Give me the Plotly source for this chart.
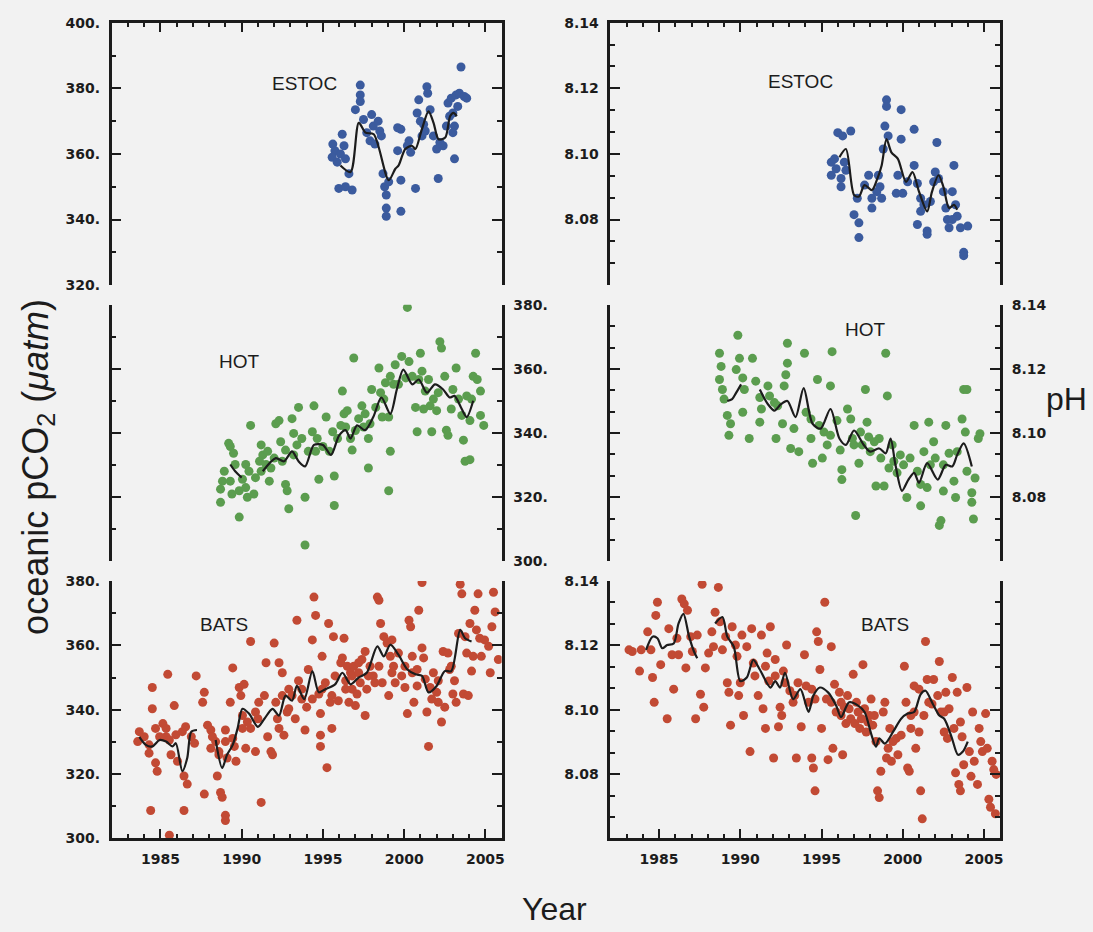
import plotly.graph_objects as go

# ---------------- data (year, value) ----------------
estoc_pco2_pts = [(1995.61,363),(1995.74,361),(1995.57,359),(1995.88,357.5),(1996.19,366),(1996.08,360),(1996.39,358.5),
    (1995.98,349.5),(1996.39,350),(1996.8,349),(1996.6,354),(1996.3,362.5),(1997.0,373.5),(1997.3,381),(1997.3,378),
    (1997.3,376),(1997.5,370.5),(1997.7,366.5),(1998.0,372),(1998.1,368.5),(1997.9,364),(1998.2,363),(1998.5,367),
    (1998.4,370),(1998.6,365.5),(1998.7,354),(1998.8,350),(1998.9,347.5),(1998.9,343.5),(1998.9,341),(1999.05,351.5),
    (1999.6,368),(1999.8,367.5),(1999.8,352),(1999.8,342.5),(1999.6,361),(2000.2,362.5),(2000.3,364),(2000.4,360.5),
    (2000.7,349.5),(2000.9,376.5),(2000.8,372.5),(2001.0,370),(2001.1,365.5),(2001.2,369),(2001.4,380.5),(2001.45,378.5),
    (2001.3,367),(2001.6,373.5),(2001.8,365.5),(2002.0,361.5),(2002.1,352.5),(2002.2,363.5),(2002.4,362.5),(2002.6,368.5),
    (2002.8,371.5),(2002.7,375.5),(2002.9,377),(2003.1,368.5),(2003.0,366.5),(2003.1,358.5),(2003.2,378),(2003.4,378.5),
    (2003.5,386.5),(2003.7,377.5),(2003.85,377),(2003.3,374.5),(2003.0,372.5)]
estoc_pco2_line = [(1996.08,356.5),(1996.7,354.5),(1997.21,369.5),(1997.62,366.5),(1998.13,366),(1999.05,352),
    (1999.46,355.5),(1999.66,356.5),(2000.07,361.5),(2000.48,362.5),(2000.69,361.5),(2001.09,367.5),(2001.5,373),
    (2001.81,369.5),(2002.12,364.5),(2002.53,365),(2002.83,371.5),(2003.04,372.5),(2003.24,371.5)]

estoc_ph_pts = [(1995.6,8.0975),(1995.8,8.0985),(1995.9,8.0955),(1995.6,8.0935),(1996.0,8.1065),(1996.3,8.1055),
    (1996.2,8.0925),(1996.2,8.090),(1996.4,8.0975),(1996.5,8.095),(1996.8,8.107),(1997.0,8.0815),(1997.3,8.079),
    (1997.3,8.0745),(1997.2,8.0865),(1997.65,8.0905),(1997.9,8.0935),(1998.1,8.0865),(1998.1,8.0835),(1998.4,8.0885),
    (1998.5,8.0935),(1998.6,8.090),(1998.7,8.0865),(1998.8,8.1015),(1998.9,8.1085),(1999.0,8.1165),(1999.0,8.1145),
    (1999.1,8.1055),(1999.7,8.0935),(1999.6,8.088),(1999.9,8.1135),(1999.9,8.1045),(2000.0,8.088),(2000.3,8.0915),
    (2000.7,8.1075),(2000.7,8.0965),(2000.9,8.091),(2001.1,8.0865),(2000.9,8.0785),(2001.1,8.0825),(2001.3,8.0845),
    (2001.5,8.0765),(2001.5,8.0755),(2001.7,8.0855),(2001.9,8.0915),(2002.0,8.0945),(2002.1,8.1035),(2002.2,8.0925),
    (2002.5,8.0885),(2002.65,8.0835),(2002.75,8.080),(2002.85,8.0775),(2003.05,8.0885),(2003.15,8.0965),(2003.25,8.0845),
    (2003.35,8.081),(2003.55,8.0775),(2003.75,8.070),(2003.75,8.069),(2004.0,8.078),(2003.05,8.080)]
estoc_ph_line = [(1996.1,8.099),(1996.5,8.1015),(1997.0,8.0875),(1997.3,8.087),(1997.65,8.0905),(1998.1,8.089),
    (1998.4,8.092),(1998.7,8.0965),(1999.0,8.1045),(1999.3,8.1005),(1999.7,8.0985),(2000.2,8.0915),(2000.6,8.0945),
    (2001.0,8.0885),(2001.5,8.0825),(2001.8,8.0885),(2002.2,8.0935),(2002.5,8.090),(2002.85,8.0835),(2003.15,8.0845),
    (2003.35,8.083)]

hot_pco2_pts = [(1988.93,328.1),(1988.82,325.0),(1988.7,322.5),(1988.7,318.4),(1989.2,336.8),(1989.3,335.8),(1989.5,333.7),
    (1989.4,321.0),(1989.3,325.0),(1989.85,322.0),(1989.85,313.8),(1990.05,325.6),(1990.25,330.2),(1990.25,323.0),
    (1990.35,320.0),(1990.55,342.4),(1990.75,321.0),(1990.85,326.1),(1991.2,336.3),(1991.3,333.2),(1991.2,328.1),
    (1991.6,334.3),(1991.7,325.0),(1991.8,329.1),(1992.1,342.9),(1992.3,343.9),(1992.4,337.3),(1992.5,331.2),(1992.7,324.0),
    (1992.8,322.0),(1992.9,316.4),(1993.1,344.5),(1993.2,339.9),(1993.4,336.3),(1993.5,348.0),(1993.9,320.0),(1993.9,305.1),
    (1994.1,334.3),(1994.45,348.5),(1994.35,340.4),(1994.65,338.3),(1994.75,325.6),(1995.0,335.8),(1995.2,345.0),
    (1995.4,334.3),(1995.7,326.6),(1995.7,317.4),(1995.9,338.3),(1996.2,353.1),(1996.3,346.0),(1996.4,341.9),(1996.7,338.3),
    (1996.8,334.7),(1996.9,363.4),(1997.0,340.8),(1997.2,344.5),(1997.4,348.5),(1997.5,341.9),(1997.8,338.3),(1997.8,329.1),
    (1998.0,353.6),(1998.25,348.0),(1998.45,360.3),(1998.55,352.6),(1998.75,350.6),(1998.85,355.7),(1999.05,345.0),
    (1999.15,334.3),(1999.05,322.0),(1999.15,357.7),(1999.45,361.3),(1999.65,355.2),(1999.85,363.9),(2000.2,379.2),
    (2000.3,362.3),(2000.5,357.7),(2000.7,348.0),(2000.8,340.4),(2001.0,364.9),(2001.1,359.3),(2001.3,353.1),(2001.5,356.7),
    (2001.6,348.5),(2001.7,340.4),(2002.0,347.0),(2002.1,352.6),(2002.2,368.5),(2002.3,366.5),(2002.5,357.7),(2002.6,340.9),
    (2002.7,339.3),(2003.0,353.6),(2003.2,360.3),(2003.35,350.6),(2003.55,345.5),(2003.65,337.8),(2003.75,331.2),
    (2004.05,331.7),(2004.05,343.9),(2004.25,357.7),(2004.4,364.9),(2004.5,356.7),(2004.7,353.1),(2004.7,345.5),
    (2004.9,342.4),(1989.6,330.2),(1990.45,328.1),(1991.1,331.2),(1991.5,330.2),(1992.0,332.2),(1992.7,334.7),
    (1993.2,333.2),(1993.7,338.3),(1994.55,334.3),(1995.6,340.4),(1996.1,342.4),(1996.5,347.0),(1997.6,346.0),
    (1997.9,342.9),(1998.65,345.0),(1999.35,355.2),(2000.1,357.2),(2000.9,356.7),(2001.2,347.5),(2001.8,350.6),
    (2002.9,347.5),(2003.85,351.6),(2004.15,350.6)]
hot_pco2_line = [(1989.3,330.2),(1989.6,328.1),(1990.0,326.1),(None,None),(1991.3,328.1),(1992.1,332.2),(1992.6,331.2),
    (1993.1,334.3),(1993.5,331.2),(1993.9,329.6),(1994.45,336.3),(1995.0,336.3),(1995.5,333.2),(1996.0,339.3),
    (1996.4,340.9),(1996.7,338.3),(1997.1,342.4),(1997.6,340.9),(1998.1,345.0),(1998.6,351.1),(1999.15,346.0),
    (1999.55,353.6),(1999.95,359.8),(2000.5,355.2),(2000.9,356.7),(2001.4,352.6),(2001.9,355.2),(2002.4,353.6),
    (2002.8,351.1),(2003.1,351.6),(2003.5,348.0),(2003.85,345.0),(2004.25,350.1)]

hot_ph_pts = [(1988.72,8.1249),(1988.82,8.1208),(1988.72,8.1167),(1988.9,8.1136),(1989.0,8.1106),(1989.2,8.1055),
    (1989.4,8.1029),(1989.3,8.0993),(1989.85,8.1305),(1989.75,8.1198),(1989.95,8.1233),(1990.15,8.1172),(1990.25,8.1136),
    (1990.15,8.1065),(1990.55,8.0983),(1990.75,8.1233),(1990.95,8.1162),(1991.2,8.1111),(1991.3,8.1075),(1991.2,8.1034),
    (1991.7,8.1147),(1991.8,8.1116),(1992.2,8.0983),(1992.3,8.1085),(1992.6,8.1029),(1992.8,8.1182),(1992.9,8.1280),
    (1992.9,8.1218),(1992.7,8.1147),(1993.1,8.0952),(1993.3,8.1014),(1993.6,8.0942),(1993.95,8.1249),(1994.05,8.1065),
    (1994.35,8.0983),(1994.45,8.0906),(1994.75,8.1167),(1994.85,8.1024),(1995.05,8.0922),(1995.15,8.1003),(1995.55,8.1147),
    (1995.55,8.0993),(1995.65,8.1254),(1995.95,8.1039),(1996.15,8.0947),(1996.25,8.0886),(1996.25,8.0855),(1996.6,8.1075),
    (1996.8,8.1044),(1996.9,8.0983),(1997.0,8.0963),(1997.1,8.0743),(1997.3,8.0906),(1997.5,8.0963),(1997.7,8.1136),
    (1997.8,8.1034),(1997.9,8.0988),(1998.0,8.0942),(1998.35,8.0835),(1998.55,8.0983),(1998.65,8.0922),(1998.85,8.0835),
    (1998.95,8.1249),(1999.05,8.1116),(1999.15,8.0891),(1999.35,8.0963),(1999.65,8.0876),(1999.85,8.0932),(2000.25,8.0799),
    (2000.45,8.0922),(2000.7,8.1024),(2000.9,8.0881),(2001.1,8.0773),(2001.3,8.0942),(2001.5,8.0830),(2001.6,8.1034),
    (2001.9,8.0973),(2002.0,8.0922),(2002.25,8.0712),(2002.35,8.0727),(2002.5,8.0819),(2002.65,8.1024),(2002.85,8.0937),
    (2003.15,8.0850),(2003.25,8.0799),(2003.65,8.1044),(2003.75,8.1136),(2003.95,8.1136),(2003.85,8.1003),(2003.95,8.0881),
    (2004.25,8.0814),(2004.35,8.0732),(2004.45,8.0860),(2004.65,8.0983),(2004.75,8.0998),(2004.25,8.0784),(1992.1,8.1095),
    (1994.35,8.1044),(1995.35,8.0963),(1997.4,8.1003),(1998.25,8.0973),(1999.45,8.0912),(2000.05,8.0901),(2001.1,8.0840),
    (2001.7,8.0901),(2002.5,8.0901),(2003.35,8.0942)]
hot_ph_line = [(1989.2,8.110),(1989.5,8.1106),(1989.75,8.1126),(1990.05,8.1152),(None,None),(1991.2,8.1136),(1991.7,8.109),
    (1992.1,8.107),(1992.5,8.109),(1992.9,8.110),(1993.4,8.105),(1993.9,8.114),(1994.45,8.1029),(1994.95,8.1014),
    (1995.55,8.1075),(1996.1,8.0983),(1996.5,8.0963),(1997.0,8.1008),(1997.6,8.0963),(1998.0,8.0942),(1998.55,8.0952),
    (1998.95,8.0937),(1999.25,8.0983),(1999.55,8.0901),(1999.95,8.082),(2000.35,8.0855),(2000.7,8.0876),(2001.0,8.0845),
    (2001.5,8.0906),(2002.15,8.0855),(2002.65,8.0901),(2003.05,8.0896),(2003.35,8.0932),(2003.75,8.0968),(2004.25,8.0896)]

bats_pco2_pts = [(1983.7,333.2),(1983.6,330.1),(1984.0,331.6),(1984.3,329.1),(1984.5,346.9),(1984.5,340.3),(1984.3,326.5),
    (1984.4,308.7),(1984.7,334.2),(1984.7,323.5),(1984.8,320.9),(1985.15,335.7),(1985.35,331.6),(1985.45,351.0),
    (1985.55,330.6),(1985.65,326.0),(1985.55,301.0),(1985.85,341.3),(1985.95,332.2),(1986.05,324.0),(1986.35,333.2),
    (1986.45,308.7),(1986.55,334.7),(1986.45,319.4),(1986.65,316.9),(1986.9,331.6),(1987.1,329.6),(1987.2,350.5),
    (1987.6,342.3),(1987.7,345.4),(1987.7,313.8),(1987.9,335.2),(1988.1,333.7),(1988.2,331.6),(1988.4,330.1),(1988.5,319.4),
    (1988.6,327.0),(1988.7,314.3),(1988.8,312.8),(1989.0,307.2),(1989.0,305.6),(1989.0,330.1),(1989.1,325.0),(1989.3,342.3),
    (1989.45,353.0),(1989.55,328.6),(1989.65,324.0),(1989.85,346.9),(1989.95,344.4),(1990.05,338.2),(1990.15,347.9),
    (1990.25,328.0),(1990.55,361.2),(1990.55,334.2),(1990.85,327.0),(1991.0,337.2),(1991.2,311.2),(1991.4,344.4),
    (1991.5,354.6),(1991.6,331.6),(1991.8,327.0),(1991.9,326.0),(1992.0,360.7),(1992.1,342.3),(1992.2,337.2),(1992.3,354.6),
    (1992.3,334.2),(1992.5,351.5),(1992.6,332.1),(1992.8,339.3),(1992.9,346.4),(1993.1,344.4),(1993.3,337.2),(1993.4,367.8),
    (1993.5,349.0),(1993.7,346.4),(1993.9,333.7),(1994.0,340.8),(1994.1,352.5),(1994.35,361.7),(1994.45,375.0),
    (1994.55,369.3),(1994.75,344.9),(1994.85,338.8),(1994.85,332.1),(1994.85,328.6),(1994.95,356.6),(1995.15,348.4),
    (1995.25,322.0),(1995.35,366.8),(1995.45,342.3),(1995.55,334.2),(1995.65,362.7),(1995.75,350.5),(1995.95,342.8),
    (1996.1,354.6),(1996.2,356.1),(1996.3,362.2),(1996.4,349.0),(1996.5,353.5),(1996.6,342.3),(1996.7,351.5),(1996.8,346.4),
    (1996.9,353.5),(1997.0,341.3),(1997.1,344.9),(1997.2,354.6),(1997.3,348.4),(1997.4,355.6),(1997.6,338.2),(1997.6,358.1),
    (1997.7,346.4),(1997.9,353.5),(1998.1,350.5),(1998.35,375.0),(1998.45,374.0),(1998.55,366.8),(1998.65,348.4),
    (1998.75,362.7),(1998.95,360.7),(1999.05,344.4),(1999.15,356.6),(1999.25,361.7),(1999.35,353.5),(1999.65,357.6),
    (1999.85,350.5),(2000.05,346.9),(2000.2,338.8),(2000.3,367.8),(2000.4,365.8),(2000.5,351.5),(2000.6,342.3),
    (2000.8,352.5),(2000.9,370.9),(2001.1,379.5),(2001.1,359.2),(2001.2,356.1),(2001.3,349.5),(2001.4,339.3),(2001.5,328.6),
    (2001.6,346.9),(2001.8,351.5),(2002.0,345.4),(2002.1,342.3),(2002.3,336.2),(2002.4,358.1),(2002.5,340.8),(2002.7,357.6),
    (2002.8,352.5),(2002.9,353.5),(2003.0,344.9),(2003.1,349.0),(2003.2,342.3),(2003.35,363.7),(2003.45,379.0),
    (2003.55,376.0),(2003.65,344.9),(2003.75,362.7),(2003.85,357.6),(2003.95,344.4),(2004.05,366.8),(2004.15,352.0),
    (2004.25,356.6),(2004.35,370.9),(2004.45,364.8),(2004.55,376.0),(2004.65,362.2),(2004.75,356.6),(2004.95,361.7),
    (2005.2,359.7),(2005.3,351.5),(2005.4,365.8),(2005.5,376.5),(2005.6,370.4),(2005.8,355.6),(1996.4,346.4),(1996.8,350.5),
    (1997.2,351.5),(1997.8,350.5),(1998.2,348.4),(1999.45,348.4),(1999.25,351.5),(1998.45,353.5),(1995.55,344.4),
    (1994.95,346.4),(1994.35,343.3),(1993.7,343.3),(1992.9,340.3),(1992.5,344.4),(1991.05,342.3),(1990.85,339.3),
    (1990.35,336.2),(1990.05,334.2),(1989.45,331.1),(1989.0,333.7),(1988.6,326.0),(1988.1,328.0),(1985.35,334.2),
    (1984.95,331.6),(2001.7,343.3),(2002.1,349.0),(2000.5,356.6),(2000.05,353.5),(2000.8,347.4)]
bats_pco2_line = [(1983.7,331.6),(1984.1,329.1),(1984.5,328.6),(1984.95,330.6),(1985.35,330.1),(1985.75,328.6),
    (1985.95,329.6),(1986.35,320.9),(1986.65,325.0),(1986.9,333.2),(1987.25,333.7),(None,None),(1988.4,330.6),
    (1988.8,321.9),(1989.1,326.0),(1989.45,329.1),(1989.75,334.2),(1990.05,340.3),(1990.45,338.8),(1991.0,334.7),
    (1991.4,337.2),(1991.9,340.3),(1992.3,338.2),(1992.7,344.4),(1993.1,342.8),(1993.4,347.4),(1993.85,343.3),
    (1994.35,352.0),(1994.75,345.4),(1995.15,346.4),(1995.75,347.9),(1996.2,351.5),(1996.7,347.9),(1997.2,350.0),
    (1997.7,351.5),(1998.35,359.7),(1998.75,356.6),(1999.15,360.2),(1999.65,357.1),(2000.2,352.5),(2000.7,351.0),
    (2001.1,350.5),(2001.5,345.4),(2002.0,347.4),(2002.5,352.0),(2002.9,352.0),(2003.45,364.8),(2003.75,362.2),
    (2004.15,361.2)]

bats_ph_pts = [(1983.15,8.1186),(1983.35,8.1181),(1983.8,8.1120),(1983.9,8.1186),(1984.3,8.1242),(1984.5,8.1186),
    (1984.6,8.1100),(1984.7,8.1023),(1984.8,8.1293),(1984.9,8.1334),(1985.1,8.1140),(1985.5,8.0972),(1985.6,8.1252),
    (1985.8,8.1171),(1985.9,8.1064),(1986.1,8.1222),(1986.2,8.1171),(1986.4,8.1344),(1986.55,8.1329),(1986.65,8.1130),
    (1986.75,8.1309),(1986.95,8.1227),(1987.05,8.1181),(1987.25,8.0972),(1987.35,8.1232),(1987.55,8.1048),(1987.65,8.1390),
    (1987.75,8.1008),(1987.85,8.1130),(1988.05,8.1176),(1988.25,8.1242),(1988.35,8.1196),(1988.45,8.1303),(1988.65,8.1380),
    (1988.75,8.1273),(1988.9,8.1186),(1989.1,8.1227),(1989.2,8.1084),(1989.3,8.1054),(1989.4,8.0952),(1989.5,8.1258),
    (1989.7,8.1201),(1989.8,8.1166),(1989.9,8.1044),(1990.0,8.1084),(1990.1,8.1232),(1990.2,8.0982),(1990.4,8.1196),
    (1990.6,8.0870),(1990.7,8.1252),(1990.8,8.1145),(1990.9,8.1105),(1991.1,8.1044),(1991.3,8.1232),(1991.4,8.1003),
    (1991.55,8.0942),(1991.65,8.1176),(1991.75,8.1089),(1991.85,8.1258),(1992.05,8.0850),(1992.15,8.1156),(1992.35,8.0947),
    (1992.45,8.1008),(1992.55,8.0982),(1992.65,8.1120),(1992.85,8.1201),(1993.05,8.1059),(1993.25,8.1023),(1993.45,8.0850),
    (1993.55,8.1084),(1993.75,8.0947),(1993.95,8.1171),(1994.05,8.1074),(1994.2,8.1023),(1994.4,8.0850),(1994.5,8.0819),
    (1994.6,8.0748),(1994.6,8.1033),(1994.7,8.1242),(1994.8,8.1212),(1994.9,8.1125),(1995.0,8.0942),(1995.2,8.1334),
    (1995.3,8.1033),(1995.4,8.0845),(1995.6,8.1196),(1995.7,8.0880),(1995.8,8.1079),(1995.9,8.0993),(1996.1,8.1054),
    (1996.2,8.0982),(1996.3,8.0860),(1996.4,8.1008),(1996.5,8.0957),(1996.6,8.1044),(1996.8,8.0972),(1996.95,8.1110),
    (1997.05,8.0957),(1997.15,8.1023),(1997.35,8.0942),(1997.55,8.1140),(1997.65,8.1003),(1997.75,8.0931),(1997.95,8.0982),
    (1998.05,8.1033),(1998.15,8.0952),(1998.35,8.0901),(1998.45,8.0748),(1998.55,8.0727),(1998.65,8.0809),(1998.8,8.0993),
    (1998.9,8.1023),(1999.0,8.0850),(1999.1,8.0880),(1999.2,8.0942),(1999.3,8.0840),(1999.4,8.0901),(1999.6,8.0911),
    (1999.7,8.0860),(1999.9,8.0921),(2000.1,8.1135),(2000.2,8.1023),(2000.3,8.0819),(2000.4,8.0809),(2000.5,8.0982),
    (2000.7,8.1074),(2000.8,8.0880),(2001.0,8.0931),(2001.0,8.1064),(2001.1,8.0748),(2001.2,8.0661),(2001.3,8.0982),
    (2001.4,8.1212),(2001.5,8.1094),(2001.6,8.1023),(2001.8,8.1018),(2001.9,8.1094),(2002.25,8.1150),(2002.35,8.0993),
    (2002.55,8.0931),(2002.65,8.1054),(2002.75,8.0911),(2002.85,8.1003),(2003.05,8.1100),(2003.15,8.0942),(2003.25,8.0804),
    (2003.35,8.1054),(2003.45,8.0768),(2003.55,8.0748),(2003.65,8.0916),(2003.75,8.0829),(2003.95,8.1069),(2004.1,8.0870),
    (2004.2,8.0793),(2004.3,8.0993),(2004.4,8.0840),(2004.6,8.0768),(2004.7,8.0942),(2004.8,8.0901),(2004.9,8.0870),
    (2005.1,8.0988),(2005.2,8.0880),(2005.3,8.0722),(2005.4,8.0697),(2005.5,8.0840),(2005.6,8.0814),(2005.7,8.0677),
    (2005.75,8.0799),(1996.2,8.1023),(1996.7,8.1003),(1997.25,8.0993),(1997.45,8.0972),(1997.85,8.0962),(1998.25,8.0982),
    (1995.6,8.1023),(1994.4,8.1064),(1993.35,8.1044),(1992.75,8.1084),(1992.15,8.1105),(1991.55,8.1135),(2002.15,8.1044),
    (2002.55,8.0993),(2003.55,8.0962),(2000.7,8.0993),(2000.5,8.0942)]
bats_ph_line = [(1984.2,8.1186),(1984.6,8.1227),(1984.9,8.1222),(1985.2,8.1191),(1985.5,8.1201),(1985.9,8.1206),
    (1986.2,8.1268),(1986.5,8.1298),(1986.85,8.1227),(1987.15,8.1181),(1987.35,8.1160),(None,None),(1988.45,8.1268),
    (1988.9,8.1288),(1989.2,8.1227),(1989.6,8.1196),(1990.0,8.1089),(1990.4,8.1100),(1990.8,8.1155),(1991.2,8.1125),
    (1991.85,8.1069),(1992.15,8.1089),(1992.45,8.1069),(1992.75,8.1115),(1993.25,8.1033),(1993.7,8.1064),(1994.2,8.0993),
    (1994.5,8.1044),(1994.9,8.1069),(1995.4,8.1054),(1995.9,8.1013),(1996.2,8.0977),(1996.7,8.1023),(1997.25,8.1013),
    (1997.65,8.0993),(1998.05,8.0926),(1998.35,8.0885),(1998.55,8.0911),(1998.9,8.0895),(1999.4,8.0931),(1999.9,8.0972),
    (2000.3,8.0988),(2000.7,8.0993),(2001.1,8.1048),(2001.4,8.1059),(2001.85,8.1018),(2002.25,8.0982),(2002.55,8.0972),
    (2003.0,8.0916),(2003.4,8.0860),(2003.7,8.0870),(2004.0,8.0901)]

year_ticks = [1985, 1990, 1995, 2000, 2005]
year_labels = ["1985", "1990", "1995", "2000", "2005"]
pco2_top_ticks = [320, 340, 360, 380, 400]
pco2_low_ticks = [300, 320, 340, 360, 380]
ph_ticks = [8.08, 8.10, 8.12, 8.14]
ph_labels = ["8.08", "8.10", "8.12", "8.14"]

# ---------------- styling ----------------
INK = "#1c1c1c"
BLUE = "#3b5b9e"
GREEN = "#5b9d4f"
RED = "#c24a34"
BG = "#f2f2f2"
W, H = 1093, 932

def px_x(a, b):
    return [a / W, b / W]

def px_y(top, bottom):
    return [1 - bottom / H, 1 - top / H]

col_dom = [px_x(112, 503), px_x(612, 1003)]
row_dom = [px_y(15, 282), px_y(302, 563), px_y(583, 845)]

tickfont = dict(family="DejaVu Sans", size=14, color=INK, weight="bold")

fig = go.Figure()

panels = [
    (estoc_pco2_pts, estoc_pco2_line, BLUE),
    (estoc_ph_pts, estoc_ph_line, BLUE),
    (hot_pco2_pts, hot_pco2_line, GREEN),
    (hot_ph_pts, hot_ph_line, GREEN),
    (bats_pco2_pts, bats_pco2_line, RED),
    (bats_ph_pts, bats_ph_line, RED),
]

for i, (pts, line, color) in enumerate(panels):
    n = i + 1
    xa = "x" if n == 1 else f"x{n}"
    ya = "y" if n == 1 else f"y{n}"
    fig.add_trace(go.Scatter(x=[p[0] for p in pts], y=[p[1] for p in pts], mode="markers",
                             marker=dict(size=9, color=color, line=dict(width=0)),
                             xaxis=xa, yaxis=ya, showlegend=False, hoverinfo="skip"))
    fig.add_trace(go.Scatter(x=[p[0] for p in line], y=[p[1] for p in line], mode="lines",
                             line=dict(color=INK, width=2.2, shape="spline", smoothing=0.8),
                             connectgaps=False, xaxis=xa, yaxis=ya, showlegend=False, hoverinfo="skip"))

layout = dict(width=W, height=H, margin=dict(l=0, r=0, t=0, b=0), autosize=False,
              paper_bgcolor=BG, plot_bgcolor=BG, showlegend=False)

for i in range(6):
    n = i + 1
    row, col = divmod(i, 2)
    xkey = "xaxis" if n == 1 else f"xaxis{n}"
    ykey = "yaxis" if n == 1 else f"yaxis{n}"
    ya = "y" if n == 1 else f"y{n}"
    xa = "x" if n == 1 else f"x{n}"
    xd = dict(domain=col_dom[col], range=[1982, 2006], anchor=ya, showgrid=False, zeroline=False,
              tickvals=year_ticks, ticktext=year_labels, tickfont=tickfont, fixedrange=True)
    if row == 0:
        xd.update(side="top", showline=True, linecolor=INK, linewidth=2.5, ticks="inside", ticklen=10,
                  tickwidth=2, tickcolor=INK, showticklabels=False,
                  minor=dict(tick0=1982, dtick=1, ticks="inside", ticklen=5, tickwidth=2, tickcolor=INK, showgrid=False))
    elif row == 1:
        xd.update(showline=False, ticks="", showticklabels=False)
    else:
        xd.update(side="bottom", showline=True, linecolor=INK, linewidth=2.5, ticks="inside", ticklen=10,
                  tickwidth=2, tickcolor=INK, showticklabels=True, ticklabelstandoff=6,
                  minor=dict(tick0=1982, dtick=1, ticks="inside", ticklen=5, tickwidth=2, tickcolor=INK, showgrid=False))
    layout[xkey] = xd

    if col == 0:
        if row == 0:
            rng, tv = [320, 400], pco2_top_ticks
        else:
            rng, tv = [300, 380], pco2_low_ticks
        tt = [f"{v}." for v in tv]
        minor = dict(tick0=rng[0], dtick=10, ticks="inside", ticklen=5, tickwidth=2, tickcolor=INK, showgrid=False)
    else:
        rng, tv, tt = [8.06, 8.14], ph_ticks, ph_labels
        minor = dict(tick0=8.06, dtick=0.02 / 3, ticks="inside", ticklen=5, tickwidth=2, tickcolor=INK, showgrid=False)
    yd = dict(domain=row_dom[row], range=rng, anchor=xa, showgrid=False, zeroline=False,
              tickvals=tv, ticktext=tt, tickfont=tickfont, showline=True, linecolor=INK, linewidth=2.5,
              mirror="ticks", ticks="inside", ticklen=10, tickwidth=2, tickcolor=INK, minor=minor,
              side="right" if row == 1 else "left", ticklabelstandoff=6, fixedrange=True)
    layout[ykey] = yd

label_font = dict(family="Liberation Sans, Arial, sans-serif", size=19, color=INK)
title_font = dict(family="Liberation Sans, Arial, sans-serif", size=32, color=INK)
ylab_font = dict(family="Liberation Sans, Arial, sans-serif", size=36, color=INK)
annots = [
    ("ESTOC", 305, 77), ("ESTOC", 803, 75),
    ("HOT", 240, 360), ("HOT", 868, 327),
    ("BATS", 225, 627), ("BATS", 887, 627),
]
annotations = [dict(text=t, x=x / W, y=1 - y / H, xref="paper", yref="paper", showarrow=False,
                    font=label_font, xanchor="center", yanchor="middle") for t, x, y in annots]
annotations.append(dict(text="oceanic pCO<sub>2</sub> (<i>\u03bcatm</i>)", x=38 / W, y=1 - 467 / H,
                        xref="paper", yref="paper", showarrow=False, textangle=-90, font=ylab_font,
                        xanchor="center", yanchor="middle"))
annotations.append(dict(text="Year", x=556 / W, y=1 - 917 / H, xref="paper", yref="paper", showarrow=False,
                        font=title_font, xanchor="center", yanchor="middle"))
annotations.append(dict(text="pH", x=1069 / W, y=1 - 398 / H, xref="paper", yref="paper", showarrow=False,
                        font=title_font, xanchor="center", yanchor="middle"))
layout["annotations"] = annotations

fig.update_layout(**layout)
fig.write_html("out.html")
